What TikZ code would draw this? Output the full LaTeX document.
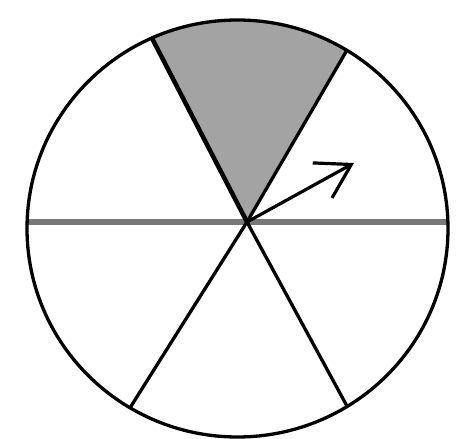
\documentclass[tikz,border=0pt]{standalone}
\usetikzlibrary{arrows.meta}
\definecolor{sectorgray}{RGB}{163,163,163}
\definecolor{divgray}{RGB}{120,120,120}
\begin{document}
\begin{tikzpicture}[x=1pt,y=1pt,
  rim/.style={line width=3.3pt, draw=black},
  spoke/.style={line width=3.3pt, draw=black},
  boldspoke/.style={line width=4.5pt, draw=black},
  divider/.style={line width=6pt, draw=divgray},
  sector/.style={fill=sectorgray},
  pointer/.style={line width=3.2pt, draw=black, -{Straight Barb[length=33pt,width=40pt,line width=3.2pt]}}
]
\useasboundingbox (0,0) rectangle (458,439);
\coordinate (O) at (237.5,210.5);
\coordinate (H) at (247,217);
\path (O) ++(114:210.5 and 208.5) coordinate (A);
\path (O) ++(58.7:210.5 and 208.5) coordinate (B);
\path (O) ++(239.3:210.5 and 208.5) coordinate (C);
\path (O) ++(301.4:210.5 and 208.5) coordinate (D);
\coordinate (L) at (27,217);
\coordinate (R) at (448,217);
\coordinate (T) at (354,276);
\fill[sector] (H) -- (A) arc[start angle=114, end angle=58.7, x radius=210.5, y radius=208.5] -- cycle;
\draw[divider] (L) -- (R);
\draw[boldspoke] (H) -- (A);
\draw[spoke] (H) -- (B);
\draw[spoke] (H) -- (C);
\draw[spoke] (H) -- (D);
\draw[rim] (O) ellipse[x radius=210.5, y radius=208.5];
\draw[pointer] (H) -- (T);
\end{tikzpicture}
\end{document}
